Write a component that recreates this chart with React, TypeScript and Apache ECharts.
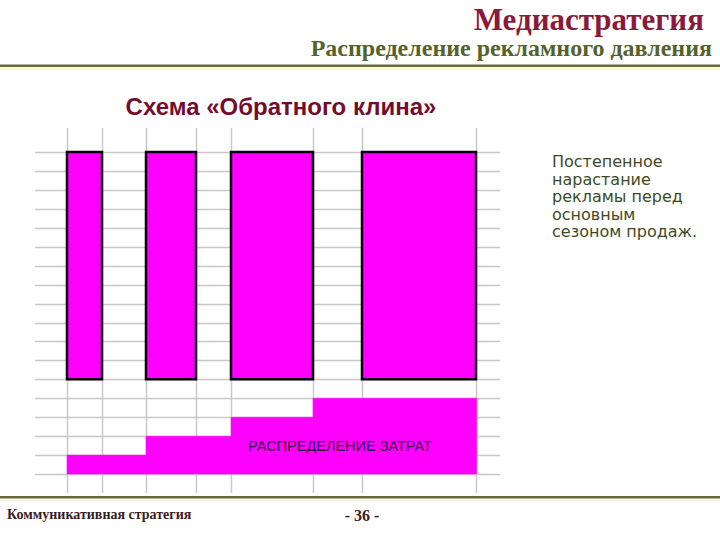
import React, { useEffect, useRef } from "react";
import * as echarts from "echarts";

// Grid structure (x in arbitrary period units, y in rows)
const rowLines = [0, 1, 2, 3, 4, 5, 6, 7, 8, 9, 10, 11, 12, 13, 14, 15, 16, 17];
const columnLines = [32, 67, 111, 161, 196, 278, 327, 441];
const gridExtentX = [0, 465];
const gridExtentY = [-1, 18.27];

// Advertising flights: start, end, bottom, top
const flightStarts = [32, 111, 196, 327];
const flightEnds = [67, 161, 278, 441];
const flightBottom = [5, 5, 5, 5];
const flightTop = [17, 17, 17, 17];

// Cost distribution steps: start, end, height
const costStarts = [32, 111, 196, 278];
const costEnds = [111, 196, 278, 441];
const costLevels = [1, 2, 3, 4];

const titleText = "Медиастратегия";
const subtitleText = "Распределение рекламного давления";
const schemeText = "Схема «Обратного клина»";
const noteText = "Постепенное\nнарастание\nрекламы перед\nосновным\nсезоном продаж.";
const costLabel = "РАСПРЕДЕЛЕНИЕ ЗАТРАТ";
const footerLeft = "Коммуникативная стратегия";
const footerPage = "- 36 -";

export default function App() {
  const ref = useRef<HTMLDivElement>(null);
  useEffect(() => {
    if (!ref.current) return;
    const chart = echarts.init(ref.current, null, { renderer: "svg" });
    const gridColor = "#c8c8c8";
    const option: any = {
      animation: false,
      backgroundColor: "#ffffff",
      grid: { left: 35, top: 128, width: 465, height: 365 },
      xAxis: { type: "value", min: gridExtentX[0], max: gridExtentX[1], show: false },
      yAxis: { type: "value", min: gridExtentY[0], max: gridExtentY[1], show: false },
      series: [
        {
          type: "custom",
          name: "hlines",
          silent: true,
          data: rowLines.map((r) => [r]),
          renderItem: (params: any, api: any) => {
            const r = api.value(0);
            const p1 = api.coord([gridExtentX[0], r]);
            const p2 = api.coord([gridExtentX[1], r]);
            const y = Math.round(p1[1]) + 0.5;
            return {
              type: "line",
              shape: { x1: p1[0], y1: y, x2: p2[0], y2: y },
              style: { stroke: gridColor, lineWidth: 1.5 },
            };
          },
          z: 1,
        },
        {
          type: "custom",
          name: "vlines",
          silent: true,
          data: columnLines.map((c) => [c]),
          renderItem: (params: any, api: any) => {
            const c = api.value(0);
            const p1 = api.coord([c, gridExtentY[0]]);
            const p2 = api.coord([c, gridExtentY[1]]);
            const x = Math.round(p1[0]) + 0.5;
            return {
              type: "line",
              shape: { x1: x, y1: p1[1], x2: x, y2: p2[1] },
              style: { stroke: gridColor, lineWidth: 1.5 },
            };
          },
          z: 1,
        },
        {
          type: "custom",
          name: "costs",
          silent: true,
          data: costStarts.map((s, i) => [s, costEnds[i], costLevels[i]]),
          renderItem: (params: any, api: any) => {
            const a = api.coord([api.value(0), api.value(2)]);
            const b = api.coord([api.value(1), 0]);
            return {
              type: "rect",
              shape: { x: a[0], y: a[1], width: b[0] - a[0] + 0.6, height: b[1] - a[1] },
              style: { fill: "#ff00ff", stroke: "#ff00ff", lineWidth: 0.5 },
            };
          },
          z: 2,
        },
        {
          type: "custom",
          name: "flights",
          silent: true,
          data: flightStarts.map((s, i) => [s, flightEnds[i], flightBottom[i], flightTop[i]]),
          renderItem: (params: any, api: any) => {
            const a = api.coord([api.value(0), api.value(3)]);
            const b = api.coord([api.value(1), api.value(2)]);
            return {
              type: "rect",
              shape: { x: a[0], y: a[1], width: b[0] - a[0], height: b[1] - a[1] },
              style: { fill: "#ff00ff", stroke: "#0a0010", lineWidth: 2.5 },
            };
          },
          z: 3,
        },
      ],
      graphic: [
        {
          type: "text",
          x: 704,
          y: 19,
          style: {
            text: titleText,
            font: "bold 31px 'Liberation Serif', 'Times New Roman', serif",
            fill: "#8a1a3c",
            textAlign: "right",
            textVerticalAlign: "middle",
            align: "right",
            verticalAlign: "middle",
          },
        },
        {
          type: "text",
          x: 712,
          y: 48,
          style: {
            text: subtitleText,
            font: "bold 24px 'Liberation Serif', 'Times New Roman', serif",
            fill: "#55622a",
            textAlign: "right",
            textVerticalAlign: "middle",
            align: "right",
            verticalAlign: "middle",
          },
        },
        { type: "rect", shape: { x: 0, y: 64.5, width: 720, height: 2.5 }, style: { fill: "#666a38" } },
        { type: "rect", shape: { x: 0, y: 68, width: 720, height: 1.5 }, style: { fill: "#f2f2dc" } },
        {
          type: "text",
          x: 281,
          y: 106,
          style: {
            text: schemeText,
            font: "bold 24px 'Liberation Sans', Arial, sans-serif",
            fill: "#740c2c",
            textAlign: "center",
            textVerticalAlign: "middle",
            align: "center",
            verticalAlign: "middle",
          },
        },
        {
          type: "text",
          x: 552,
          y: 153,
          style: {
            text: noteText,
            font: "16px 'DejaVu Sans', 'Liberation Sans', sans-serif",
            lineHeight: 17.5,
            fill: "#3f4a1e",
            textAlign: "left",
            textVerticalAlign: "top",
            align: "left",
            verticalAlign: "top",
          },
        },
        {
          type: "text",
          x: 340,
          y: 446,
          z: 10,
          style: {
            text: costLabel,
            font: "14.5px 'Liberation Sans', Arial, sans-serif",
            fill: "#300840",
            textAlign: "center",
            textVerticalAlign: "middle",
            align: "center",
            verticalAlign: "middle",
          },
        },
        { type: "rect", shape: { x: 0, y: 496, width: 720, height: 2.5 }, style: { fill: "#666a38" } },
        { type: "rect", shape: { x: 0, y: 499.5, width: 720, height: 1.5 }, style: { fill: "#f4f4e0" } },
        {
          type: "text",
          x: 7,
          y: 514,
          style: {
            text: footerLeft,
            font: "bold 14px 'Liberation Serif', 'Times New Roman', serif",
            fill: "#3a1c1c",
            textAlign: "left",
            textVerticalAlign: "middle",
            align: "left",
            verticalAlign: "middle",
          },
        },
        {
          type: "text",
          x: 362,
          y: 515,
          style: {
            text: footerPage,
            font: "bold 16px 'Liberation Serif', 'Times New Roman', serif",
            fill: "#3a1c1c",
            textAlign: "center",
            textVerticalAlign: "middle",
            align: "center",
            verticalAlign: "middle",
          },
        },
      ],
    };
    chart.setOption(option);
    return () => chart.dispose();
  }, []);
  return (
    <div
      ref={ref}
      style={{ position: "fixed", left: 0, top: 0, width: 720, height: 540, background: "#fff" }}
    />
  );
}
